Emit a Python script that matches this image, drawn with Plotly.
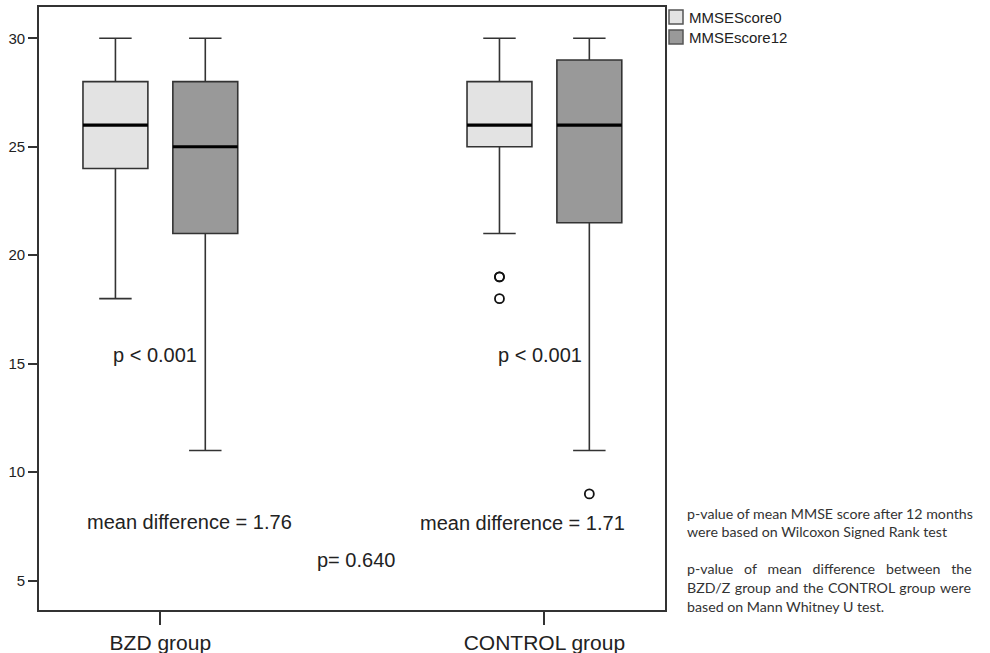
import plotly.graph_objects as go

# Groups and their positions on the x axis
groups = ["BZD group", "CONTROL group"]
group_pos = [0, 1]

# Box statistics per series (BZD group, CONTROL group)
series_names = ["MMSEScore0", "MMSEscore12"]
lower_0 = [18, 21]
q1_0 = [24, 25]
median_0 = [26, 26]
q3_0 = [28, 28]
upper_0 = [30, 30]

lower_12 = [11, 11]
q1_12 = [21, 21.5]
median_12 = [25, 26]
q3_12 = [28, 29]
upper_12 = [30, 30]

# Outliers (CONTROL group only)
outliers_0 = [19, 19, 18]
outliers_12 = [9]

y_ticks = [5, 10, 15, 20, 25, 30]

# Annotated statistics
p_within = ["p < 0.001", "p < 0.001"]
mean_diff = [1.76, 1.71]
p_between = "p= 0.640"

LIGHT = "#e3e3e3"
DARK = "#999999"
EDGE = "#333333"
TXT = "#222222"
FONT = "Liberation Sans, Arial, sans-serif"

OFFSET = 0.117
BOX_W = 0.169

fig = go.Figure()

stats = [
    (series_names[0], -OFFSET, LIGHT, lower_0, q1_0, median_0, q3_0, upper_0),
    (series_names[1], OFFSET, DARK, lower_12, q1_12, median_12, q3_12, upper_12),
]

for name, off, color, lo, q1, med, q3, hi in stats:
    xs = [p + off for p in group_pos]
    fig.add_trace(go.Box(
        name=name, x=xs, q1=q1, median=med, q3=q3,
        lowerfence=lo, upperfence=hi,
        width=BOX_W, whiskerwidth=0.5,
        fillcolor=color, line=dict(color=EDGE, width=1.6),
        boxpoints=False, showlegend=False, hoverinfo="skip",
    ))
    # heavier median bars
    mx, my = [], []
    for x, m in zip(xs, med):
        mx += [x - BOX_W / 2, x + BOX_W / 2, None]
        my += [m, m, None]
    fig.add_trace(go.Scatter(
        x=mx, y=my, mode="lines", line=dict(color="#000000", width=3.2),
        showlegend=False, hoverinfo="skip",
    ))

# outlying cases for the CONTROL group
fig.add_trace(go.Scatter(
    x=[group_pos[1] - OFFSET] * len(outliers_0), y=outliers_0, mode="markers",
    marker=dict(symbol="circle-open", size=9, color="#111111", line=dict(width=1.8)),
    showlegend=False, hoverinfo="skip",
))
fig.add_trace(go.Scatter(
    x=[group_pos[1] + OFFSET] * len(outliers_12), y=outliers_12, mode="markers",
    marker=dict(symbol="circle-open", size=9, color="#111111", line=dict(width=1.8)),
    showlegend=False, hoverinfo="skip",
))

annots = []
big = dict(family=FONT, size=20, color=TXT)
annots.append(dict(x=group_pos[0] - 0.014, y=15.4, text=p_within[0], showarrow=False,
                   xref="x", yref="y", font=big))
annots.append(dict(x=group_pos[1] - 0.011, y=15.4, text=p_within[1], showarrow=False,
                   xref="x", yref="y", font=big))
annots.append(dict(x=group_pos[0] + 0.075, y=7.7, text=f"mean difference = {mean_diff[0]:.2f}",
                   showarrow=False, xref="x", yref="y", font=big))
annots.append(dict(x=group_pos[1] - 0.058, y=7.66, text=f"mean difference = {mean_diff[1]:.2f}",
                   showarrow=False, xref="x", yref="y", font=big))
annots.append(dict(x=0.51, y=5.95, text=p_between, showarrow=False,
                   xref="x", yref="y", font=big))

# legend drawn beside the frame
PL, PW, PB, PH = 39, 626, 610, 603


def px(x):
    return (x - PL) / PW


def py(y):
    return (PB - y) / PH


shapes = []
for i, (name, color) in enumerate(zip(series_names, [LIGHT, DARK])):
    top = 10 + 20 * i
    shapes.append(dict(type="rect", xref="paper", yref="paper",
                       x0=px(669), x1=px(683), y0=py(top + 14), y1=py(top),
                       fillcolor=color, line=dict(color="#555555", width=1.5)))
    annots.append(dict(x=px(687), y=py(top + 7), xref="paper", yref="paper",
                       xanchor="left", yanchor="middle", text=name, showarrow=False,
                       font=dict(family=FONT, size=15, color=TXT)))

# footnotes; (text, extra padding added to each word gap) to widen justified lines
note_font = dict(family="Lato, Carlito, sans-serif", size=14.2, color="#333333")
NOTE_L = 685
NBSP, HAIR = "\u00a0", "\u200a"
note_lines = [
    (513, "p-value of mean MMSE score after 12 months", ""),
    (531, "were based on Wilcoxon Signed Rank test", ""),
    (568, "p-value of mean difference between the", NBSP * 2),
    (587, "BZD/Z group and the CONTROL group were", HAIR),
    (606, "based on Mann Whitney U test.", ""),
]
for y, line, pad in note_lines:
    gap = " " + pad
    annots.append(dict(x=px(NOTE_L), y=py(y), xref="paper", yref="paper",
                       xanchor="left", yanchor="middle", text=gap.join(line.split(" ")),
                       showarrow=False, font=note_font))

fig.update_layout(
    width=990, height=653,
    margin=dict(l=PL, r=990 - PL - PW, t=7, b=653 - PB, autoexpand=False),
    paper_bgcolor="white", plot_bgcolor="white",
    showlegend=False,
    annotations=annots, shapes=shapes,
    xaxis=dict(
        range=[-0.316, 1.314], tickvals=group_pos, ticktext=groups,
        ticks="outside", ticklen=13, tickwidth=1.6, tickcolor=EDGE,
        tickfont=dict(family=FONT, size=21, color=TXT),
        showgrid=False, zeroline=False, automargin=False,
        showline=True, linecolor=EDGE, linewidth=1.6, mirror=True,
    ),
    yaxis=dict(
        range=[3.65, 31.44], tickvals=y_ticks,
        ticks="outside", ticklen=9, tickwidth=1.6, tickcolor=EDGE,
        tickfont=dict(family=FONT, size=15, color=TXT),
        showgrid=False, zeroline=False, automargin=False,
        showline=True, linecolor=EDGE, linewidth=1.6, mirror=True,
    ),
)

fig.write_html("out.html")
